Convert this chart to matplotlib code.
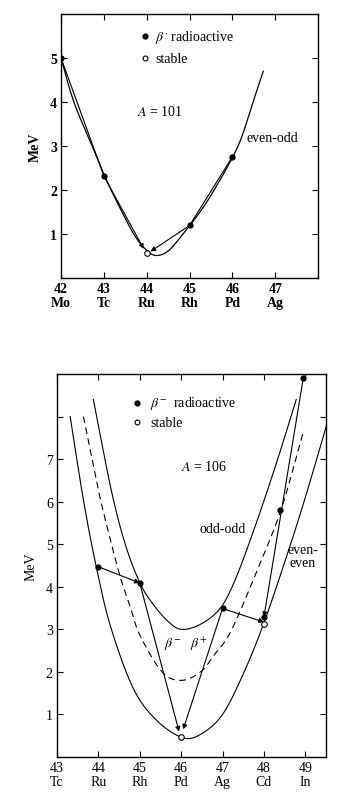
import numpy as np
import matplotlib
matplotlib.use("Agg")
import matplotlib.pyplot as plt

plt.rcParams['font.family'] = ['Liberation Serif', 'DejaVu Serif']
plt.rcParams['mathtext.fontset'] = 'stix'

# ---------------- A = 101 (even-odd) ----------------
top_ticks = [42, 43, 44, 45, 46, 47]
top_elems = ['Mo', 'Tc', 'Ru', 'Rh', 'Pd', 'Ag']
top_curve_Z = [42.0, 42.3, 42.75, 43.05, 43.4, 43.7, 43.95, 44.2, 44.5,
               44.84, 45.2, 45.57, 46.13, 46.48, 46.72]
top_curve_E = [5.0, 4.0, 2.95, 2.25, 1.55, 1.0, 0.68, 0.52, 0.62,
               1.0, 1.45, 2.0, 3.0, 4.0, 4.7]
top_beta_Z = [42, 43, 45, 46]
top_beta_E = [5.0, 2.32, 1.2, 2.76]
top_stable_Z = [44.0]
top_stable_E = [0.57]
# decay chains (start -> ... -> arrow tip)
top_chain_left_Z = [42, 43, 43.93]
top_chain_left_E = [5.0, 2.32, 0.67]
top_chain_right_Z = [46, 45, 44.09]
top_chain_right_E = [2.76, 1.2, 0.61]

# ---------------- A = 106 ----------------
bot_ticks = [43, 44, 45, 46, 47, 48, 49]
bot_elems = ['Tc', 'Ru', 'Rh', 'Pd', 'Ag', 'Cd', 'In']
ee_Z = [43.32, 43.64, 43.95, 44.3, 44.85, 45.42, 46.05, 46.5, 47.0,
        47.5, 48.0, 48.56, 49.0, 49.53]
ee_E = [8.0, 6.04, 4.47, 3.05, 1.6, 0.85, 0.45, 0.55, 1.0,
        1.95, 3.15, 4.75, 6.1, 7.85]
oo_Z = [43.88, 44.31, 44.65, 45.0, 45.3, 45.66, 46.0, 46.47, 46.94,
        47.3, 47.77, 48.3, 48.78]
oo_E = [8.4, 6.28, 5.0, 4.1, 3.62, 3.21, 3.0, 3.12, 3.49,
        4.15, 5.37, 6.9, 8.4]
mid_Z = [43.64, 44.0, 44.25, 44.53, 44.77, 45.01, 45.54, 46.0, 46.47,
         46.8, 47.2, 47.8, 48.41, 48.94]
mid_E = [8.0, 6.28, 5.26, 4.23, 3.53, 2.85, 2.0, 1.8, 2.0,
         2.4, 2.95, 4.3, 5.8, 7.6]
bot_beta_Z = [44, 45, 47, 48, 48.4, 48.95]
bot_beta_E = [4.47, 4.09, 3.49, 3.29, 5.8, 8.9]
bot_stable_Z = [46, 48]
bot_stable_E = [0.47, 3.12]
# decay arrows: (Z0, E0) -> (Z1, E1)
bot_arrows_Z0 = [44, 45, 47, 47, 48.95]
bot_arrows_E0 = [4.47, 4.09, 3.49, 3.49, 8.9]
bot_arrows_Z1 = [45, 45.95, 46.05, 48, 48.0]
bot_arrows_E1 = [4.09, 0.6, 0.65, 3.17, 3.29]

fig = plt.figure(figsize=(3.45, 8.12), dpi=100)


def smooth(xs, ys, n=16):
    # Catmull-Rom through the read points, just for drawing
    p = np.column_stack([xs, ys]).astype(float)
    p = np.vstack([2 * p[0] - p[1], p, 2 * p[-1] - p[-2]])
    out = []
    t = np.linspace(0, 1, n, endpoint=False)[:, None]
    for i in range(1, len(p) - 2):
        p0, p1, p2, p3 = p[i - 1], p[i], p[i + 1], p[i + 2]
        seg = 0.5 * ((2 * p1) + (-p0 + p2) * t
                     + (2 * p0 - 5 * p1 + 4 * p2 - p3) * t ** 2
                     + (-p0 + 3 * p1 - 3 * p2 + p3) * t ** 3)
        out.append(seg)
    out.append(p[-2][None, :])
    out = np.vstack(out)
    return out[:, 0], out[:, 1]


def frame(ax, ticks, elems, yt, ylabels, bold):
    w = 'bold' if bold else 'normal'
    ax.set_xticks(ticks)
    ax.set_xticklabels([f'{t}\n{e}' for t, e in zip(ticks, elems)],
                       fontsize=10, fontweight=w, linespacing=1.05)
    ax.set_yticks(yt)
    ax.set_yticklabels(ylabels, fontsize=10, fontweight=w)
    ax.tick_params(direction='in', top=True, right=True, length=4,
                   width=0.8, pad=3)
    for s in ax.spines.values():
        s.set_linewidth(1.0)


def arrow(ax, z0, e0, z1, e1):
    ax.annotate('', xy=(z1, e1), xytext=(z0, e0),
                arrowprops=dict(arrowstyle='-|>', color='k', lw=0.8,
                                mutation_scale=7, shrinkA=0, shrinkB=0))


# top panel
ax1 = fig.add_axes([0.177, 0.656, 0.745, 0.3255])
ax1.plot(*smooth(top_curve_Z, top_curve_E), color='k', lw=0.9)
ax1.plot(top_chain_left_Z[:2], top_chain_left_E[:2], color='k', lw=0.8)
arrow(ax1, top_chain_left_Z[1], top_chain_left_E[1],
      top_chain_left_Z[2], top_chain_left_E[2])
ax1.plot(top_chain_right_Z[:2], top_chain_right_E[:2], color='k', lw=0.8)
arrow(ax1, top_chain_right_Z[1], top_chain_right_E[1],
      top_chain_right_Z[2], top_chain_right_E[2])
ax1.plot(top_beta_Z, top_beta_E, 'o', color='k', ms=3.5, ls='none')
ax1.plot(top_stable_Z, top_stable_E, 'o', mfc='white', mec='k', ms=4,
         mew=0.8, ls='none')
ax1.set_xlim(42, 48)
ax1.set_ylim(0, 6)
frame(ax1, top_ticks, top_elems, [1, 2, 3, 4, 5], ['1', '2', '3', '4', '5'], True)
ax1.plot([43.97], [5.5], 'o', color='k', ms=3.5)
ax1.text(44.2, 5.5, r'$\beta^{\cdot}$ radioactive', fontsize=10, va='center')
ax1.plot([43.97], [5.0], 'o', mfc='white', mec='k', ms=3.5, mew=0.8)
ax1.text(44.2, 5.0, 'stable', fontsize=10, va='center')
ax1.text(44.3, 3.8, r'$A$ = 101', fontsize=10, ha='center', va='center')
ax1.text(46.32, 3.2, 'even-odd', fontsize=10, va='center')
ax1.set_ylabel('MeV', fontsize=10, fontweight='bold', labelpad=6)

# bottom panel
ax2 = fig.add_axes([0.165, 0.0665, 0.78, 0.4717])
ax2.plot(*smooth(ee_Z, ee_E), color='k', lw=0.8)
ax2.plot(*smooth(oo_Z, oo_E), color='k', lw=0.8)
ax2.plot(*smooth(mid_Z, mid_E), color='k', lw=0.8, ls=(0, (6, 4)))
for z0, e0, z1, e1 in zip(bot_arrows_Z0, bot_arrows_E0, bot_arrows_Z1, bot_arrows_E1):
    arrow(ax2, z0, e0, z1, e1)
ax2.plot(bot_beta_Z, bot_beta_E, 'o', color='k', ms=3.5, ls='none', clip_on=False)
ax2.plot(bot_stable_Z, bot_stable_E, 'o', mfc='white', mec='k', ms=4,
         mew=0.8, ls='none')
ax2.set_xlim(43, 49.5)
ax2.set_ylim(0, 9)
frame(ax2, bot_ticks, bot_elems, [1, 2, 3, 4, 5, 6, 7, 8],
      ['1', '2', '3', '4', '5', '6', '7', ''], False)
ax2.plot([44.93], [8.32], 'o', color='k', ms=3.5)
ax2.text(45.25, 8.32, r'$\beta^{-}$  radioactive', fontsize=10, va='center')
ax2.plot([44.93], [7.87], 'o', mfc='white', mec='k', ms=3.5, mew=0.8)
ax2.text(45.25, 7.87, 'stable', fontsize=10, va='center')
ax2.text(46.55, 6.83, r'$A$ = 106', fontsize=10, ha='center', va='center')
ax2.text(47.0, 5.38, 'odd-odd', fontsize=10, ha='center', va='center')
ax2.text(48.94, 4.72, 'even-\neven', fontsize=10, ha='center', va='center',
         linespacing=1.0)
ax2.text(45.8, 2.67, r'$\beta^{-}$', fontsize=10, ha='center', va='center')
ax2.text(46.43, 2.67, r'$\beta^{+}$', fontsize=10, ha='center', va='center')
ax2.set_ylabel('MeV', fontsize=10, labelpad=6)

fig.savefig('out.png', dpi=100)
